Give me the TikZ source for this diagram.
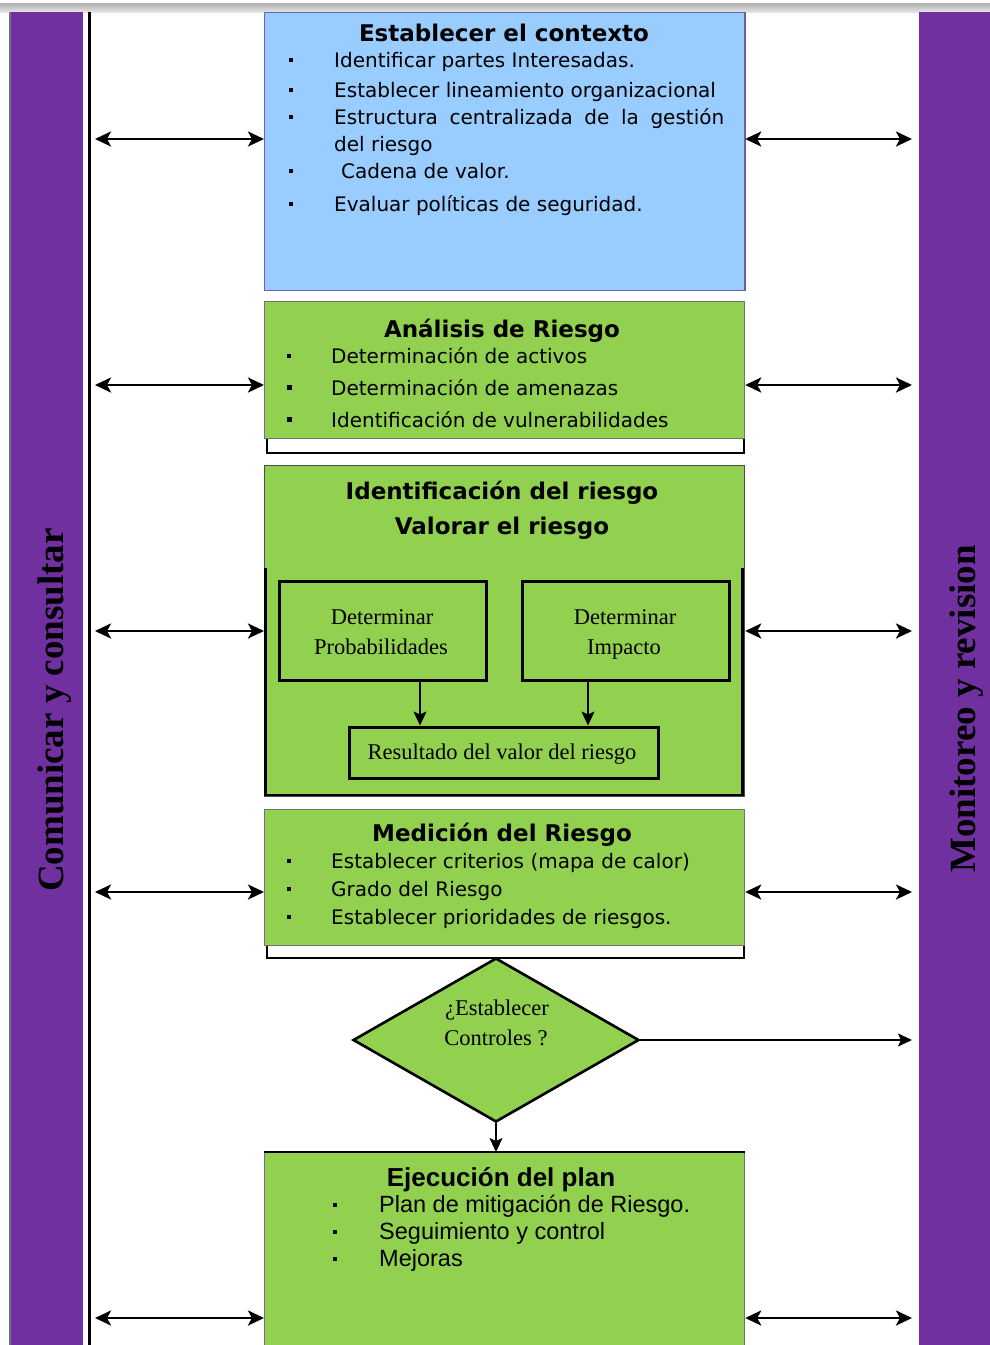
\documentclass[tikz,border=0pt]{standalone}
\usepackage{fontspec}
\usetikzlibrary{arrows.meta,shapes.geometric}
\newfontfamily\djv{DejaVu Sans}
\newfontfamily\lserif{Liberation Serif}
\newfontfamily\lsans{Liberation Sans}
\newcommand\bodyf{\djv\fontsize{20}{24}\selectfont}
\newcommand\titlef{\djv\bfseries\fontsize{23}{27}\selectfont}
\newcommand\serf{\lserif\fontsize{22.5}{26}\selectfont}
\newcommand\sidef{\lserif\bfseries\fontsize{37}{40}\selectfont}
\newcommand\ejbodyf{\lsans\fontsize{23.5}{27}\selectfont}
\newcommand\ejtitlef{\lsans\bfseries\fontsize{26}{30}\selectfont}
\definecolor{purp}{HTML}{7030A0}
\definecolor{leaf}{HTML}{92D050}
\definecolor{sky}{HTML}{99CCFF}
\begin{document}
\begin{tikzpicture}[x=1pt,y=-1pt,
  dbl/.style={line width=2.8pt,{Stealth[length=16pt,width=15pt,inset=4pt]}-{Stealth[length=16pt,width=15pt,inset=4pt]}},
  sarr/.style={line width=1.8pt,-{Stealth[length=14pt,width=13pt,inset=3pt]}},
  gbox/.style={rectangle,anchor=north west,inner sep=0,fill=leaf,draw=black!55,line width=1.2pt},
  bbox/.style={rectangle,anchor=north west,inner sep=0,fill=white,draw=black,line width=2.6pt},
  ibox/.style={rectangle,inner sep=0,fill=leaf,draw=black,line width=3pt},
  sidebar/.style={rectangle,anchor=north west,inner sep=0,fill=purp},
  btxt/.style={anchor=base west,inner sep=0,font=\bodyf},
  ttxt/.style={anchor=base,inner sep=0,font=\titlef},
  stxt/.style={anchor=base,inner sep=0,font=\serf},
  etxt/.style={anchor=base west,inner sep=0,font=\ejbodyf},
  sidetxt/.style={rotate=90,anchor=base,inner sep=0,font=\sidef},
  dot/.style={rectangle,fill=black,minimum size=4pt,inner sep=0},
]
\useasboundingbox (0,0) rectangle (990,1345);
\fill[white] (0,0) rectangle (990,1345);
% window edge at the top
\shade[top color=black!32,bottom color=black!10] (0,3) rectangle (990,12);

% side bars
\node[sidebar,minimum width=73pt,minimum height=1333pt] (lbar) at (10,12) {};
\draw[black!55,line width=1.5pt] (lbar.north west) -- (lbar.south west);
\node[sidebar,minimum width=71pt,minimum height=1333pt] (rbar) at (919,12) {};
\node[sidetxt] (ltxt) at (63,710) {Comunicar y consultar};
\node[sidetxt] (rtxt) at (975,709) {Monitoreo y revision};

% vertical rule beside the left bar
\coordinate (vt) at (89.5,12);
\coordinate (vb) at (89.5,1345);
\draw[line width=3.5pt] (vt) -- (vb);

% Establecer el contexto
\node[rectangle,anchor=north west,inner sep=0,fill=sky,draw=black!50!blue!60,line width=1.2pt,
      minimum width=480pt,minimum height=278pt] (ctx) at (264,12) {};
\draw[black!60,line width=1.4pt] (ctx.north east) -- (ctx.south east);
\node[ttxt] (ctxt) at (504,41) {Establecer el contexto};
\node[dot] (c1) at (291,60) {};
\node[dot] (c2) at (291,90) {};
\node[dot] (c3) at (291,117) {};
\node[dot] (c4) at (291,171) {};
\node[dot] (c5) at (291,204) {};
\node[btxt] (ct1) at (334,67) {Identificar partes Interesadas.};
\node[btxt] (ct2) at (334,97) {Establecer lineamiento organizacional};
\node[btxt] (ct3) at (334,124) {\makebox[390pt][s]{Estructura centralizada de la gestión}};
\node[btxt] (ct3b) at (334,151) {del riesgo};
\node[btxt] (ct4) at (341,178) {Cadena de valor.};
\node[btxt] (ct5) at (334,211) {Evaluar políticas de seguridad.};

% Analisis de Riesgo
\node[bbox,minimum width=477pt,minimum height=149pt] (anab) at (265.5,302.5) {};
\node[gbox,minimum width=480pt,minimum height=137pt] (ana) at (264,301) {};
\node[ttxt] (anat) at (502,337) {Análisis de Riesgo};
\node[dot,minimum size=3.5pt] (a1) at (289,356) {};
\node[dot,minimum size=5pt] (a2) at (289,387) {};
\node[dot,minimum size=5pt] (a3) at (289,419) {};
\node[btxt] (at1) at (331,363) {Determinación de activos};
\node[btxt] (at2) at (331,395) {Determinación de amenazas};
\node[btxt] (at3) at (331,427) {Identificación de vulnerabilidades};

% Identificacion / valoracion
\node[gbox,draw=black!70,minimum width=480pt,minimum height=331pt] (idn) at (264,465) {};
\draw[line width=2.6pt] (265.5,568) |- (742.5,795) -- (742.5,568);
\node[ttxt] (idt1) at (502,499) {Identificación del riesgo};
\node[ttxt] (idt2) at (502,534) {Valorar el riesgo};
\node[ibox,minimum width=207pt,minimum height=99pt] (prob) at (382.5,630.5) {};
\node[ibox,minimum width=207pt,minimum height=99pt] (imp) at (625.5,630.5) {};
\node[ibox,minimum width=309pt,minimum height=51pt] (res) at (503.5,752.5) {};
\node[stxt] (pt1) at (382,624) {Determinar};
\node[stxt] (pt2) at (381,654) {Probabilidades};
\node[stxt] (it1) at (625,624) {Determinar};
\node[stxt] (it2) at (624,654) {Impacto};
\node[stxt] (rt) at (502,759) {Resultado del valor del riesgo};
\draw[sarr] ([xshift=37.5pt]prob.south) -- ([xshift=37.5pt]prob.south |- res.north);
\draw[sarr] ([xshift=-37.5pt]imp.south) -- ([xshift=-37.5pt]imp.south |- res.north);

% Medicion del Riesgo
\node[bbox,minimum width=477pt,minimum height=146pt] (medb) at (265.5,810.5) {};
\node[gbox,minimum width=480pt,minimum height=136pt] (med) at (264,809) {};
\node[ttxt] (medt) at (502,841) {Medición del Riesgo};
\node[dot] (m1) at (289,861) {};
\node[dot] (m2) at (289,889) {};
\node[dot] (m3) at (289,917) {};
\node[btxt] (mt1) at (331,868) {Establecer criterios (mapa de calor)};
\node[btxt] (mt2) at (331,896) {Grado del Riesgo};
\node[btxt] (mt3) at (331,924) {Establecer prioridades de riesgos.};

% Decision
\node[diamond,draw,fill=leaf,line width=2.6pt,inner sep=0,minimum width=286pt,minimum height=164pt] (dec) at (496,1040) {};
\node[stxt] (dq1) at (497,1015) {¿Establecer};
\node[stxt] (dq2) at (496,1045) {Controles ?};

% Ejecucion del plan
\node[gbox,minimum width=480pt,minimum height=200pt] (ejc) at (264,1152) {};
\draw[line width=2.6pt] (ejc.north west) -- (ejc.north east);
\node[anchor=base,inner sep=0,font=\ejtitlef] (ejt) at (501,1186) {Ejecución del plan};
\node[dot] (e1) at (335,1205) {};
\node[dot] (e2) at (335,1232) {};
\node[dot] (e3) at (335,1259) {};
\node[etxt] (et1) at (379,1212) {Plan de mitigación de Riesgo.};
\node[etxt] (et2) at (379,1239) {Seguimiento y control};
\node[etxt] (et3) at (379,1266) {Mejoras};

% flow arrows
\coordinate (rq) at (912,1040);
\draw[sarr] (dec.east) -- (rq);
\draw[sarr] (dec.south) -- (dec.south |- ejc.north);

% links to the two side bars
\coordinate (l1) at (95,139);  \coordinate (r1) at (912,139);
\coordinate (l2) at (95,385);  \coordinate (r2) at (912,385);
\coordinate (l3) at (95,631);  \coordinate (r3) at (912,631);
\coordinate (l4) at (95,892);  \coordinate (r4) at (912,892);
\coordinate (l5) at (95,1318); \coordinate (r5) at (912,1318);
\draw[dbl] (l1) -- (ctx.west |- l1);
\draw[dbl] (ctx.east |- r1) -- (r1);
\draw[dbl] (l2) -- (ana.west |- l2);
\draw[dbl] (ana.east |- r2) -- (r2);
\draw[dbl] (l3) -- (idn.west |- l3);
\draw[dbl] (idn.east |- r3) -- (r3);
\draw[dbl] (l4) -- (med.west |- l4);
\draw[dbl] (med.east |- r4) -- (r4);
\draw[dbl] (l5) -- (ejc.west |- l5);
\draw[dbl] (ejc.east |- r5) -- (r5);
\end{tikzpicture}
\end{document}
